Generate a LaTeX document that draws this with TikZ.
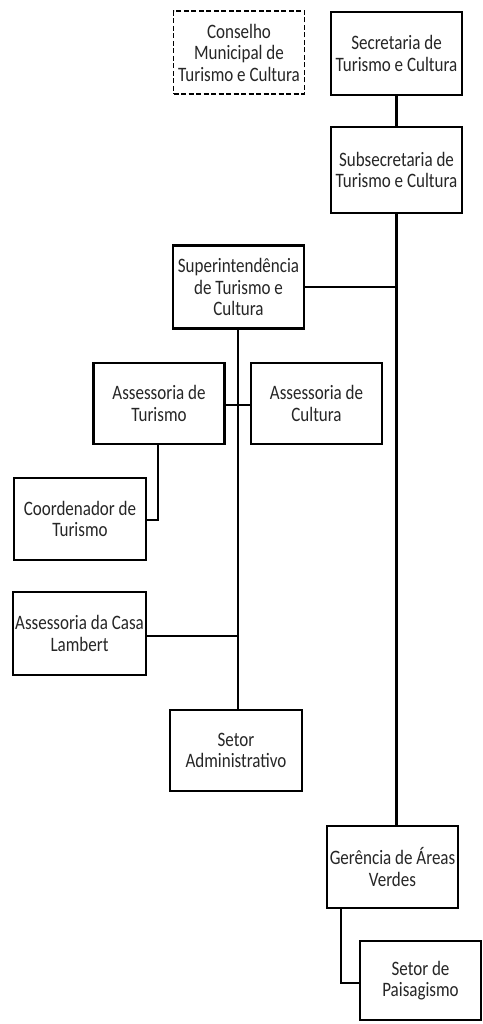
\documentclass[tikz,border=0pt]{standalone}
\usepackage{fontspec}
\setmainfont[FakeStretch=0.83]{Carlito}
\begin{document}
\begin{tikzpicture}[x=1pt,y=-1pt,
  box/.style={draw=black,line width=2.8pt,rectangle,inner sep=0pt,
    minimum width=#1,minimum height=83pt,align=center,
    font=\fontsize{20.5}{21.5}\selectfont,text=black!85},
  box/.default=131pt,
  dbox/.style={box,line width=1.7pt,dash pattern=on 5pt off 2.5pt},
  conn/.style={draw=black,line width=2.6pt}]
\useasboundingbox[fill=white] (0,0) rectangle (482,1024);
\node[dbox] (cons) at (239,52.5) {Conselho\\Municipal de\\Turismo e Cultura};
\node[box] (sec) at (396.5,53.5) {Secretaria de\\Turismo e Cultura};
\node[box,minimum height=86pt] (sub) at (396.5,170) {Subsecretaria de\\Turismo e Cultura};
\node[box] (sup) at (238.5,287) {Superintendência\\de Turismo e\\Cultura};
\node[box,minimum height=81pt] (astur) at (159,403.5) {Assessoria de\\Turismo};
\node[box,minimum height=81pt] (ascul) at (316.5,403.5) {Assessoria de\\Cultura};
\node[box,minimum width=132pt,minimum height=82pt] (coord) at (80,519) {Coordenador de\\Turismo};
\node[box,minimum width=133pt] (casa) at (79.5,633.5) {Assessoria da Casa\\Lambert};
\node[box,minimum width=132pt,minimum height=81pt] (setadm) at (236,750.5) {Setor\\Administrativo};
\node[box,minimum height=82pt] (ger) at (392.5,867) {Gerência de Áreas\\Verdes};
\node[box,minimum width=121pt,minimum height=79pt] (pais) at (420.5,980.5) {Setor de\\Paisagismo};
\coordinate (jsup) at (397,287);
\coordinate (jtur) at (238,405);
\coordinate (jcasa) at (238,636);
\coordinate (kcoord) at (158,520);
\coordinate (kpais) at (341,983);
\draw[conn] (sec.south) -- (sub.north);
\draw[conn] (sub.south) -- (sub.south |- ger.north);
\draw[conn] (sup.east) -- (jsup);
\draw[conn] (sup.south -| jtur) -- (setadm.north -| jtur);
\draw[conn] (astur.east |- jtur) -- (ascul.west |- jtur);
\draw[conn] (astur.south -| kcoord) -- (kcoord) -- (coord.east |- kcoord);
\draw[conn] (casa.east |- jcasa) -- (jcasa);
\draw[conn] (ger.south -| kpais) -- (kpais) -- (pais.west |- kpais);
\end{tikzpicture}
\end{document}
